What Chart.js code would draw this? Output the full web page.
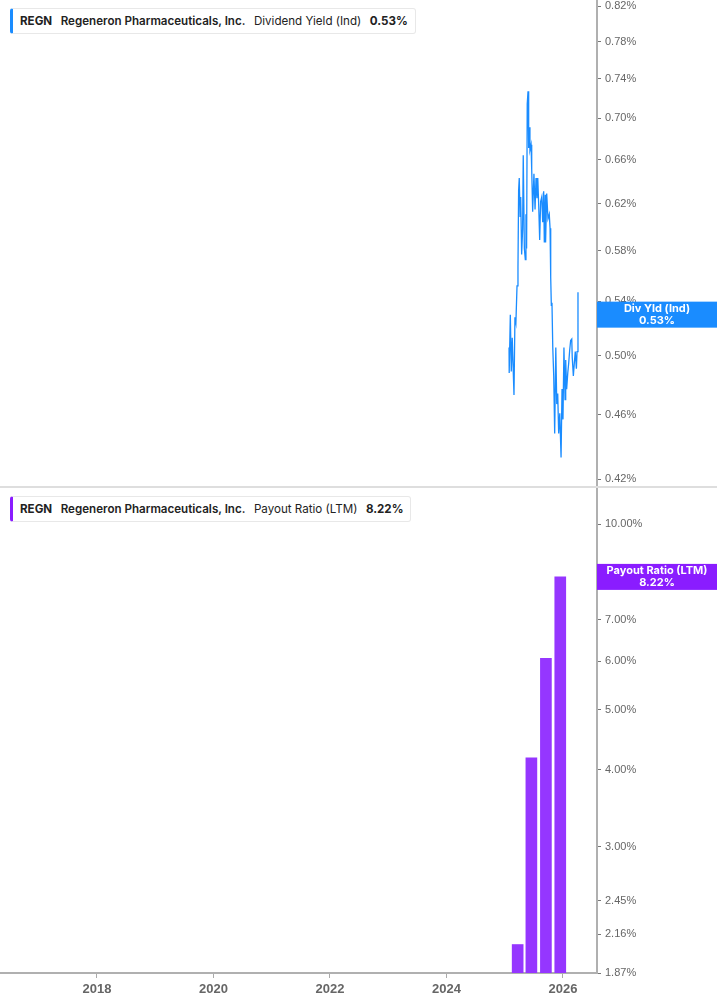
<!DOCTYPE html>
<html>
<head>
<meta charset="utf-8">
<script src="https://cdn.jsdelivr.net/npm/chart.js@4/dist/chart.umd.min.js"></script>
<style>
  body { margin: 0; background: #fff; font-family: Inter, "Noto Sans", sans-serif; }
  #wrap { position: relative; width: 717px; height: 1005px; overflow: hidden; }
  .pane { position: absolute; left: 0; width: 717px; }
  #top { top: 0; height: 486px; }
  #sep { position: absolute; left: 0; top: 486px; width: 717px; height: 2px; background: #dedede; }
  #bottom { top: 488px; height: 517px; }
  .legend {
    position: absolute; left: 10px; height: 24px; background: #fff;
    border: 1px solid #e8e8e8; border-left: 3px solid; border-radius: 3px;
    display: flex; align-items: center; padding: 0 7px 0 7px; gap: 8.5px;
    font-size: 11.6px; color: #222; white-space: nowrap; z-index: 2;
  }
  .legend b { font-weight: 700; }
  .legend .co { font-weight: 600; }
</style>
</head>
<body>
<div id="wrap">
  <div class="pane" id="top"><canvas id="yieldChart"></canvas></div>
  <div id="sep"></div>
  <div class="pane" id="bottom"><canvas id="payoutChart"></canvas></div>
  <div class="legend" style="top:8px;border-left-color:#1a8cff">
    <b>REGN</b><span class="co">Regeneron Pharmaceuticals, Inc.</span><span>Dividend Yield (Ind)</span><b>0.53%</b>
  </div>
  <div class="legend" style="top:496px;border-left-color:#8a1cff">
    <b>REGN</b><span class="co">Regeneron Pharmaceuticals, Inc.</span><span>Payout Ratio (LTM)</span><b>8.22%</b>
  </div>
</div>
<script>
// Dividend yield (%)
const yieldDates = [
  "2025-01-28","2025-01-29","2025-02-05","2025-02-11","2025-02-17","2025-02-28","2025-03-06","2025-03-12",
  "2025-03-19","2025-03-25","2025-03-29","2025-04-02","2025-04-07","2025-04-11","2025-04-17","2025-04-23",
  "2025-04-27","2025-05-04","2025-05-10","2025-05-14","2025-05-18","2025-05-22","2025-05-27","2025-05-31",
  "2025-06-04","2025-06-08","2025-06-15","2025-06-19","2025-06-25","2025-07-03","2025-07-10","2025-07-16",
  "2025-07-22","2025-07-27","2025-08-02","2025-08-08","2025-08-14","2025-08-21","2025-08-27","2025-09-02",
  "2025-09-06","2025-09-12","2025-09-14","2025-09-21","2025-09-29","2025-10-07","2025-10-12","2025-10-16",
  "2025-10-20","2025-10-24","2025-10-29","2025-11-04","2025-11-10","2025-11-17","2025-11-23","2025-11-29",
  "2025-12-05","2025-12-12","2025-12-20","2025-12-26","2026-01-01","2026-01-07","2026-01-14","2026-01-18",
  "2026-01-24","2026-01-31","2026-02-06","2026-02-12","2026-02-18","2026-02-25","2026-02-28","2026-03-07",
  "2026-03-13","2026-03-19","2026-03-26","2026-03-30","2026-04-05"
];
const yieldValues = [
  0.506, 0.488, 0.530, 0.489, 0.513, 0.473, 0.528, 0.524,
  0.552, 0.567, 0.632, 0.643, 0.609, 0.626, 0.577, 0.598,
  0.664, 0.582, 0.573, 0.611, 0.582, 0.714, 0.727, 0.671,
  0.691, 0.669, 0.674, 0.651, 0.613, 0.647, 0.615, 0.643,
  0.625, 0.643, 0.618, 0.589, 0.622, 0.626, 0.604, 0.631,
  0.587, 0.628, 0.587, 0.629, 0.607, 0.611, 0.599, 0.559,
  0.537, 0.539, 0.506, 0.486, 0.448, 0.506, 0.467, 0.474,
  0.448, 0.461, 0.433, 0.477, 0.457, 0.506, 0.470, 0.497,
  0.477, 0.488, 0.495, 0.504, 0.511, 0.512, 0.499, 0.486,
  0.495, 0.503, 0.491, 0.503, 0.547
];
const yieldLast = 0.53;

// Payout ratio LTM (%), quarterly
const payoutDates = ["2025-03-23", "2025-06-17", "2025-09-16", "2025-12-15"];
const payoutValues = [2.08, 4.18, 6.06, 8.22];
const payoutLast = 8.22;

const yieldTicks = [0.42, 0.46, 0.50, 0.54, 0.58, 0.62, 0.66, 0.70, 0.74, 0.78, 0.82];
const payoutTicks = [1.87, 2.16, 2.45, 3, 4, 5, 6, 7, 8, 10];
const yearTicks = [2018, 2020, 2022, 2024, 2026];

const X_MIN = 2016.335, X_MAX = 2026.584;
const AXIS_W = 120;
const tickFont = { family: "'Liberation Sans', Arial, sans-serif", size: 11 };

function decYear(s) {
  const d = new Date(s + "T00:00:00Z");
  const y = d.getUTCFullYear();
  const a = Date.UTC(y, 0, 1), b = Date.UTC(y + 1, 0, 1);
  return y + (d - a) / (b - a);
}

function fixY(list) {
  return {
    afterBuildTicks: s => { s.ticks = list.map(v => ({ value: v })); },
    afterFit: s => { s.width = AXIS_W; s.paddingTop = 0; s.paddingBottom = 0; }
  };
}

// value box on the right axis
const lastLabel = {
  id: "lastLabel",
  afterDraw(chart, args, opts) {
    const y = chart.scales.y;
    const ctx = chart.ctx;
    const cy = y.getPixelForValue(opts.value);
    const left = chart.chartArea.right;
    ctx.save();
    ctx.fillStyle = opts.color;
    ctx.fillRect(left, cy - 13, chart.width - left, 26);
    ctx.fillStyle = "#fff";
    ctx.font = "bold 11px Inter, sans-serif";
    ctx.textAlign = "center";
    ctx.textBaseline = "middle";
    const cx = left + (chart.width - left) / 2;
    ctx.fillText(opts.title, cx, cy - 6);
    ctx.fillText(opts.text, cx, cy + 6);
    ctx.restore();
  }
};

function rightAxis(min, max, ticks) {
  return Object.assign({
    type: "logarithmic",
    position: "right",
    min, max,
    border: { display: true, color: "#b0b0b0", width: 2 },
    grid: { drawOnChartArea: false, drawTicks: true, tickLength: 4, tickColor: "#777", offset: false },
    ticks: {
      color: "#666", font: tickFont, padding: 4,
      callback: v => Number(v).toFixed(2) + "%"
    }
  }, fixY(ticks));
}

new Chart(document.getElementById("yieldChart"), {
  type: "line",
  data: {
    datasets: [{
      label: "Div Yld (Ind)",
      data: yieldDates.map((d, i) => ({ x: decYear(d), y: yieldValues[i] })),
      borderColor: "#1a8cff",
      borderWidth: 1.3,
      pointRadius: 0,
      tension: 0
    }]
  },
  options: {
    responsive: true,
    maintainAspectRatio: false,
    animation: false,
    layout: { padding: 0 },
    plugins: {
      legend: { display: false },
      tooltip: { enabled: false },
      lastLabel: { value: yieldLast, color: "#1a8cff", title: "Div Yld (Ind)", text: "0.53%" }
    },
    scales: {
      x: { type: "linear", min: X_MIN, max: X_MAX, display: false },
      y: rightAxis(0.4159, 0.8272, yieldTicks)
    }
  },
  plugins: [lastLabel]
});

new Chart(document.getElementById("payoutChart"), {
  type: "bar",
  data: {
    datasets: [{
      label: "Payout Ratio (LTM)",
      data: payoutDates.map((d, i) => ({ x: decYear(d), y: payoutValues[i] })),
      backgroundColor: "#9536ff",
      barThickness: 11
    }]
  },
  options: {
    responsive: true,
    maintainAspectRatio: false,
    animation: false,
    layout: { padding: 0 },
    plugins: {
      legend: { display: false },
      tooltip: { enabled: false },
      lastLabel: { value: payoutLast, color: "#8a1cff", title: "Payout Ratio (LTM)", text: "8.22%" }
    },
    scales: {
      x: {
        type: "linear", min: X_MIN, max: X_MAX, offset: false,
        border: { display: true, color: "#b0b0b0", width: 2 },
        grid: { drawOnChartArea: false, drawTicks: true, tickLength: 5, tickColor: "#aaa", offset: false },
        ticks: {
          color: "#666", padding: 4,
          font: { family: "'Liberation Sans', Arial, sans-serif", size: 13, weight: "bold" },
          callback: v => String(v)
        },
        afterBuildTicks: s => { s.ticks = yearTicks.map(v => ({ value: v })); },
        afterFit: s => { s.height = 32; s.paddingLeft = 0; s.paddingRight = 0; }
      },
      y: rightAxis(1.87, 11.46, payoutTicks)
    }
  },
  plugins: [lastLabel]
});
</script>
</body>
</html>
